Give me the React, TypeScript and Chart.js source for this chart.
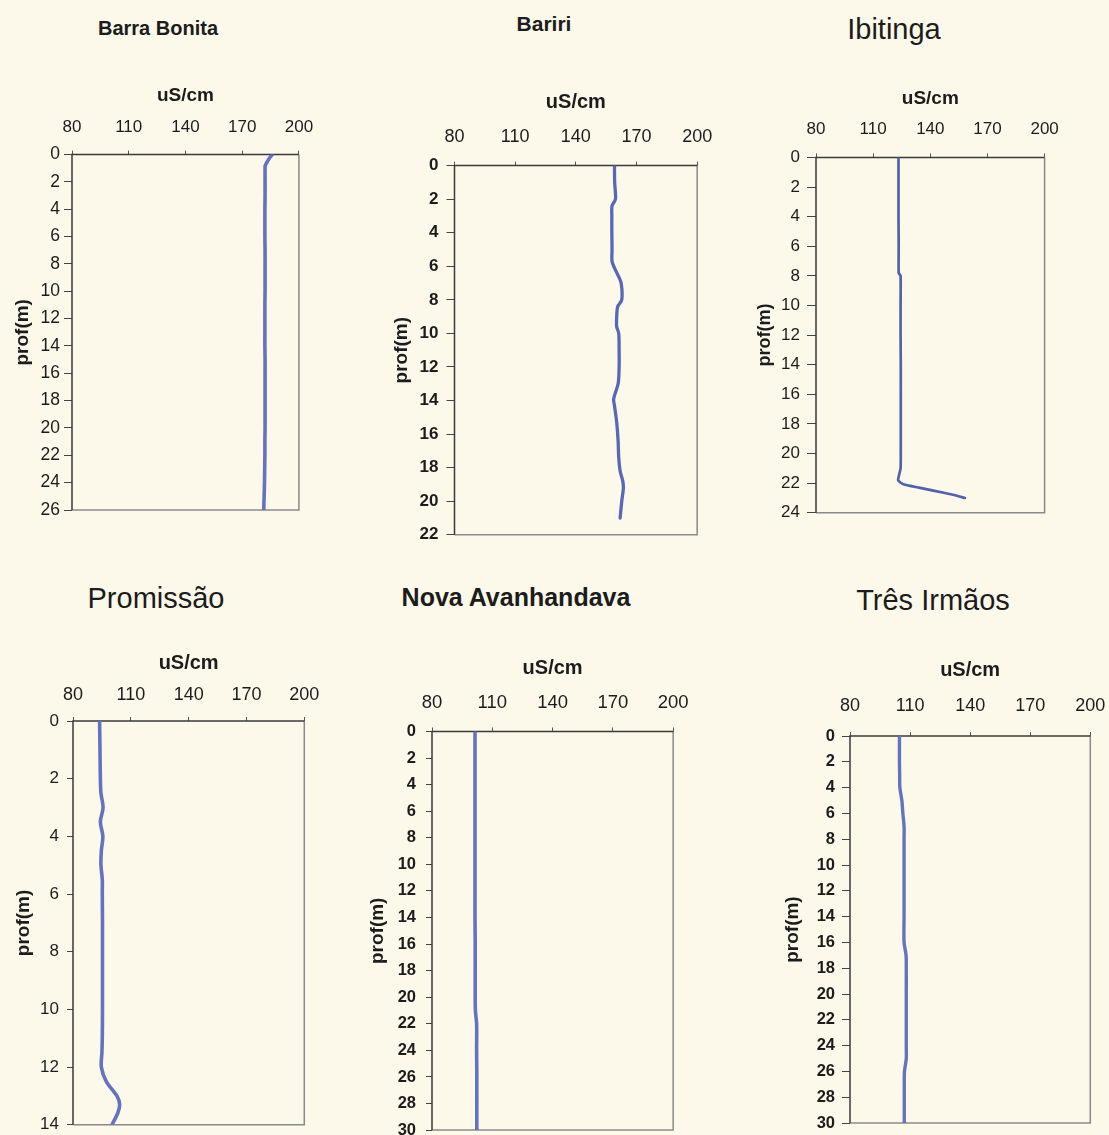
import React, { useEffect, useRef } from "react";
import { Chart, registerables } from "chart.js";

Chart.register(...registerables);

// ---------------- DATA ----------------
const xTickValues = [80, 110, 140, 170, 200];
const xAxisLabel = "uS/cm";
const yAxisLabel = "prof(m)";

const barraBonitaDepth = [0, 0.3, 0.8, 1, 2, 3, 4, 5, 6, 7, 8, 9, 10, 11, 12, 13, 14, 15, 16, 17, 18, 19, 20, 21, 22, 23, 24, 25, 26];
const barraBonitaCond = [185.9, 184.2, 182.2, 182.1, 182.1, 182.1, 182.0, 182.0, 182.0, 182.1, 182.1, 182.1, 182.1, 182.0, 182.0, 182.0, 182.0, 182.1, 182.1, 182.1, 182.1, 182.1, 182.1, 182.0, 182.0, 181.9, 181.8, 181.6, 181.4];

const baririDepth = [0, 1, 2, 2.4, 3, 4, 5, 5.7, 6.1, 6.5, 7, 8, 8.4, 9, 9.6, 10, 11, 12, 13, 13.9, 14.3, 15.3, 16.4, 17.4, 18.2, 18.8, 19.2, 20, 21];
const baririCond = [159.1, 159.2, 159.6, 157.9, 157.8, 157.8, 157.9, 157.9, 159.1, 160.7, 162.4, 162.7, 160.7, 160.2, 160.2, 161.2, 161.4, 161.4, 160.9, 158.7, 159.1, 160.2, 160.9, 161.2, 161.9, 163.2, 163.5, 162.7, 161.9];

const ibitingaDepth = [0, 2, 4, 6, 7.8, 8, 10, 12, 14, 16, 18, 20, 21, 21.8, 22.05, 22.3, 22.5, 22.8, 23];
const ibitingaCond = [123.3, 123.3, 123.3, 123.4, 123.4, 124.4, 124.4, 124.4, 124.5, 124.5, 124.5, 124.5, 124.4, 123.1, 125.5, 134, 141.6, 152.5, 158.2];

const promissaoDepth = [0, 1, 2, 2.5, 3, 3.5, 4, 4.5, 5, 5.5, 6, 7, 8, 9, 10, 11, 11.5, 12, 12.5, 13, 13.3, 13.6, 14];
const promissaoCond = [93.8, 94.0, 94.2, 94.5, 95.6, 94.2, 95.5, 94.7, 94.5, 95.2, 95.2, 95.3, 95.3, 95.3, 95.3, 95.2, 95.0, 94.7, 97.3, 102.8, 104.2, 103.2, 100.2];

const novaAvanhandavaDepth = [0, 2, 4, 6, 8, 10, 12, 14, 16, 18, 20, 21, 22, 24, 26, 28, 30];
const novaAvanhandavaCond = [101.4, 101.4, 101.4, 101.4, 101.4, 101.4, 101.4, 101.4, 101.5, 101.5, 101.5, 101.6, 102.2, 102.2, 102.3, 102.3, 102.3];

const tresIrmaosDepth = [0, 1, 2, 3, 4, 5, 6, 7, 8, 10, 12, 14, 16, 17, 18, 20, 22, 24, 25, 26, 27, 28, 30];
const tresIrmaosCond = [104.7, 104.7, 104.7, 104.8, 104.9, 105.9, 106.4, 107.0, 107.0, 107.0, 107.0, 107.0, 107.0, 108.0, 108.1, 108.1, 108.1, 108.1, 108.1, 107.2, 107.1, 107.1, 107.1];

const panelTitles = ["Barra Bonita", "Bariri", "Ibitinga", "Promissão", "Nova Avanhandava", "Três Irmãos"];
const panelDepthMax = [26, 22, 24, 14, 30, 30];
const panelDepths = [barraBonitaDepth, baririDepth, ibitingaDepth, promissaoDepth, novaAvanhandavaDepth, tresIrmaosDepth];
const panelConds = [barraBonitaCond, baririCond, ibitingaCond, promissaoCond, novaAvanhandavaCond, tresIrmaosCond];

// ---------------- LAYOUT / STYLE ----------------
const FONT = "'Liberation Sans', Arial, Helvetica, sans-serif";
const TEXT = "#1c1c1c";

type Layout = {
  L: number; R: number; T: number; B: number;
  titleX: number; titleY: number; titleSize: number; titleBold: boolean;
  unitY: number; unitSize: number;
  tickY: number; tickSize: number;
  ySize: number; yBold: boolean; yTick: number; yPad: number;
  profX: number; profSize: number;
  lineColor: string; lineWidth: number; tension: number;
};

const layouts: Layout[] = [
  { L: 72, R: 299, T: 154.6, B: 509.6, titleX: 158, titleY: 27.5, titleSize: 20, titleBold: true, unitY: 95, unitSize: 19, tickY: 127.5, tickSize: 17, ySize: 17.5, yBold: false, yTick: 8, yPad: 4, profX: 22, profSize: 19, lineColor: "#6572bf", lineWidth: 3.6, tension: 0.3 },
  { L: 454.5, R: 697, T: 165.6, B: 535, titleX: 544, titleY: 23.5, titleSize: 21, titleBold: true, unitY: 101.5, unitSize: 20, tickY: 137, tickSize: 18, ySize: 17, yBold: true, yTick: 8, yPad: 8, profX: 401, profSize: 19, lineColor: "#5867b8", lineWidth: 3.3, tension: 0.3 },
  { L: 816, R: 1045, T: 157.4, B: 512.5, titleX: 894, titleY: 29.5, titleSize: 29, titleBold: false, unitY: 98, unitSize: 19, tickY: 129, tickSize: 17, ySize: 17, yBold: false, yTick: 9, yPad: 7, profX: 765, profSize: 18, lineColor: "#5161aa", lineWidth: 2.7, tension: 0.15 },
  { L: 73, R: 304, T: 721, B: 1124.5, titleX: 156, titleY: 598.5, titleSize: 29, titleBold: false, unitY: 663, unitSize: 20, tickY: 695.5, tickSize: 18, ySize: 17, yBold: false, yTick: 6, yPad: 8, profX: 23, profSize: 19, lineColor: "#6572bf", lineWidth: 3.6, tension: 0.3 },
  { L: 432, R: 673, T: 731.5, B: 1130, titleX: 516, titleY: 596.5, titleSize: 25, titleBold: true, unitY: 668, unitSize: 20, tickY: 703, tickSize: 18.5, ySize: 16.5, yBold: true, yTick: 6, yPad: 10, profX: 377, profSize: 19, lineColor: "#6572bf", lineWidth: 3.6, tension: 0.3 },
  { L: 850, R: 1090, T: 736, B: 1123, titleX: 933, titleY: 600, titleSize: 29, titleBold: false, unitY: 670, unitSize: 20, tickY: 706.5, tickSize: 18, ySize: 16.5, yBold: true, yTick: 8, yPad: 7, profX: 792, profSize: 19, lineColor: "#6572bf", lineWidth: 3.4, tension: 0.3 },
];

const framePlugin = {
  id: "frame",
  beforeDatasetsDraw(chart: any) {
    const { ctx, chartArea: a } = chart;
    ctx.save();
    ctx.lineWidth = 1.5;
    ctx.strokeStyle = "#8a8a8a";
    ctx.beginPath();
    ctx.moveTo(a.right, a.top);
    ctx.lineTo(a.right, a.bottom);
    ctx.lineTo(a.left, a.bottom);
    ctx.stroke();
    ctx.strokeStyle = "#3a3a3a";
    ctx.beginPath();
    ctx.moveTo(a.left, a.bottom);
    ctx.lineTo(a.left, a.top);
    ctx.lineTo(a.right, a.top);
    ctx.stroke();
    ctx.restore();
  },
};

const PAD_R = 22;
const PAD_B = 16;

function Profile({ idx }: { idx: number }) {
  const ref = useRef<HTMLCanvasElement>(null);
  const lay = layouts[idx];
  const profLH = lay.profSize * 1.2;
  const unitLH = lay.unitSize * 1.2;
  const cl = Math.round(lay.profX - profLH / 2);
  const ct = Math.round(lay.unitY - unitLH / 2);
  const cw = Math.round(lay.R - cl + PAD_R);
  const ch = Math.round(lay.B - ct + PAD_B);
  const yW = lay.L - cl;
  const xH = lay.T - ct;
  const xTickLen = 4;
  const xPad = lay.T - lay.tickY - xTickLen - (lay.tickSize * 1.2) / 2;

  useEffect(() => {
    const canvas = ref.current;
    if (!canvas) return;
    const depths = panelDepths[idx];
    const conds = panelConds[idx];

    const build = () =>
      new Chart(canvas, {
        type: "scatter",
        data: {
          datasets: [
            {
              data: depths.map((d, i) => ({ x: conds[i], y: d })),
              showLine: true,
              borderColor: lay.lineColor,
              backgroundColor: lay.lineColor,
              borderWidth: lay.lineWidth,
              pointRadius: 0,
              tension: lay.tension,
              fill: false,
              borderCapStyle: "round",
              borderJoinStyle: "round",
            } as any,
          ],
        },
        options: {
          responsive: false,
          maintainAspectRatio: false,
          animation: false,
          devicePixelRatio: 1,
          layout: { padding: { left: 0, top: 0, right: PAD_R, bottom: PAD_B } },
          plugins: { legend: { display: false }, tooltip: { enabled: false }, title: { display: false } },
          scales: {
            x: {
              type: "linear",
              position: "top",
              min: 80,
              max: 200,
              afterBuildTicks: (s: any) => {
                s.ticks = xTickValues.map((v) => ({ value: v }));
              },
              afterFit: (s: any) => {
                s.height = xH;
              },
              ticks: {
                autoSkip: false,
                maxRotation: 0,
                padding: xPad,
                color: TEXT,
                font: { family: FONT, size: lay.tickSize },
              },
              grid: { drawOnChartArea: false, drawTicks: true, tickLength: xTickLen, color: "#555", lineWidth: 1 },
              border: { display: false },
              title: {
                display: true,
                text: xAxisLabel,
                color: TEXT,
                padding: { top: 0, bottom: 0 },
                font: { family: FONT, size: lay.unitSize, weight: "bold" },
              },
            },
            y: {
              type: "linear",
              reverse: true,
              min: 0,
              max: panelDepthMax[idx],
              afterFit: (s: any) => {
                s.width = yW;
              },
              ticks: {
                stepSize: 2,
                autoSkip: false,
                padding: lay.yPad,
                color: TEXT,
                font: { family: FONT, size: lay.ySize, weight: lay.yBold ? "bold" : "normal" },
              },
              grid: { drawOnChartArea: false, drawTicks: true, tickLength: lay.yTick, color: "#444", lineWidth: 1 },
              border: { display: false },
              title: {
                display: true,
                text: yAxisLabel,
                color: TEXT,
                padding: { top: 0, bottom: 0 },
                font: { family: FONT, size: lay.profSize, weight: "bold" },
              },
            },
          },
        } as any,
        plugins: [framePlugin],
      });

    let chart = build();
    // make the plot area land exactly on the intended right/bottom edges
    const a = chart.chartArea;
    const dr = Math.round(lay.R - cl - a.right);
    const db = Math.round(lay.B - ct - a.bottom);
    if (dr !== 0 || db !== 0) {
      chart.destroy();
      const w = cw + dr;
      const h = ch + db;
      canvas.width = w;
      canvas.height = h;
      canvas.style.width = w + "px";
      canvas.style.height = h + "px";
      chart = build();
    }
    return () => chart.destroy();
  }, [idx]);

  const titleLH = lay.titleSize * 1.2;
  return (
    <>
      <div
        style={{
          position: "absolute",
          left: lay.titleX - 200,
          width: 400,
          top: lay.titleY - titleLH / 2,
          height: titleLH,
          lineHeight: `${titleLH}px`,
          textAlign: "center",
          fontFamily: FONT,
          fontSize: lay.titleSize,
          fontWeight: lay.titleBold ? 700 : 400,
          color: TEXT,
          whiteSpace: "nowrap",
        }}
      >
        {panelTitles[idx]}
      </div>
      <canvas
        ref={ref}
        width={cw}
        height={ch}
        style={{ position: "absolute", left: cl, top: ct, width: cw, height: ch }}
      />
    </>
  );
}

export default function App() {
  return (
    <div
      style={{
        position: "absolute",
        left: 0,
        top: 0,
        width: 1109,
        height: 1135,
        overflow: "hidden",
        background: "#fcf9ea",
      }}
    >
      {panelTitles.map((_, i) => (
        <Profile key={i} idx={i} />
      ))}
    </div>
  );
}
